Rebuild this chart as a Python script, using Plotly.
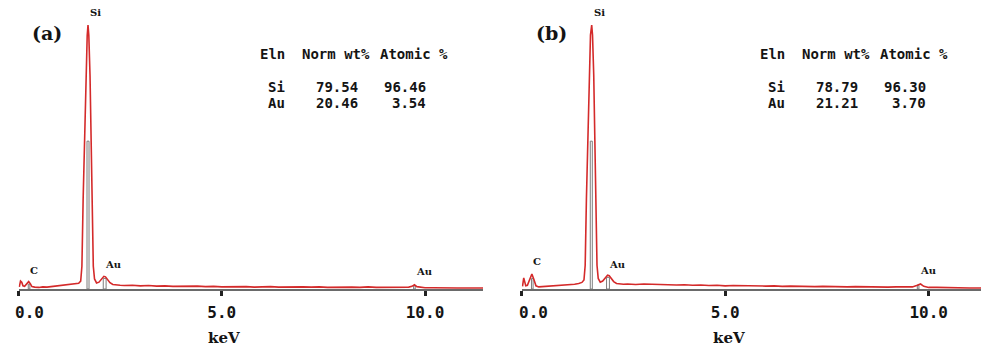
import plotly.graph_objects as go

# ---------------- data ----------------
# Panel (a) spectrum: energy (keV) and counts (relative, Si peak = 1000)
energy_a = [0.02, 0.05, 0.08, 0.11, 0.15, 0.20, 0.25, 0.29, 0.33, 0.40, 0.50, 0.60, 0.70, 0.80,
            0.90, 1.00, 1.10, 1.20, 1.30, 1.40, 1.48, 1.53, 1.56, 1.59, 1.62, 1.66, 1.69, 1.71,
            1.73, 1.76, 1.79, 1.81, 1.84, 1.87, 1.92, 1.98, 2.04, 2.10, 2.14, 2.19, 2.25, 2.32,
            2.40, 2.50, 2.60, 2.80, 3.00, 3.20, 3.40, 3.60, 3.80, 4.00, 4.20, 4.40, 4.60, 4.80,
            5.00, 5.20, 5.40, 5.60, 5.80, 6.00, 6.20, 6.40, 6.60, 6.80, 7.00, 7.20, 7.40, 7.60,
            7.80, 8.00, 8.20, 8.40, 8.60, 8.80, 9.00, 9.20, 9.40, 9.60, 9.68, 9.74, 9.80, 9.90,
            10.00, 10.20, 10.40, 10.60, 10.80, 11.00, 11.20, 11.43]
counts_a = [8, 30, 26, 12, 10, 18, 28, 20, 9, 7, 6, 8, 7, 9,
            11, 12, 14, 15, 17, 19, 22, 30, 86, 338, 560, 806, 960, 1000,
            960, 806, 560, 338, 86, 38, 23, 26, 38, 48, 46, 36, 24, 17,
            15, 14, 13, 14, 12, 13, 11, 12, 10, 11, 10, 11, 9, 10,
            8, 9, 8, 9, 7, 8, 9, 7, 8, 7, 8, 7, 8, 6,
            7, 6, 7, 6, 8, 6, 6, 5, 6, 7, 10, 16, 9, 6,
            5, 5, 4, 5, 4, 4, 4, 4]

# Panel (b) spectrum
energy_b = [0.02, 0.05, 0.07, 0.10, 0.14, 0.19, 0.25, 0.30, 0.35, 0.42, 0.50, 0.60, 0.70, 0.80,
            0.90, 1.00, 1.10, 1.20, 1.30, 1.40, 1.48, 1.53, 1.56, 1.59, 1.62, 1.66, 1.69, 1.72,
            1.74, 1.77, 1.80, 1.82, 1.85, 1.88, 1.93, 1.99, 2.05, 2.11, 2.15, 2.20, 2.26, 2.33,
            2.40, 2.50, 2.60, 2.80, 3.00, 3.20, 3.40, 3.60, 3.80, 4.00, 4.20, 4.40, 4.60, 4.80,
            5.00, 5.20, 5.40, 5.60, 5.80, 6.00, 6.20, 6.40, 6.60, 6.80, 7.00, 7.20, 7.40, 7.60,
            7.80, 8.00, 8.20, 8.40, 8.60, 8.80, 9.00, 9.20, 9.40, 9.60, 9.72, 9.80, 9.88, 9.96,
            10.00, 10.20, 10.40, 10.60, 10.80, 11.00, 11.20, 11.48]
counts_b = [10, 42, 30, 12, 14, 34, 57, 36, 12, 8, 9, 10, 11, 10,
            12, 13, 15, 17, 18, 21, 25, 34, 90, 340, 565, 810, 962, 1000,
            962, 810, 565, 340, 90, 40, 26, 30, 42, 52, 50, 40, 28, 21,
            19, 18, 19, 17, 19, 18, 16, 17, 15, 16, 14, 15, 13, 14,
            12, 13, 12, 11, 12, 11, 12, 10, 11, 10, 11, 9, 10, 9,
            9, 8, 9, 8, 8, 8, 7, 8, 7, 8, 14, 19, 10, 7,
            6, 6, 5, 5, 5, 4, 4, 4]

# Element line markers (keV) and their marker heights (counts)
marker_energy = [0.26, 1.71, 2.12, 9.74]
marker_half_width = [0.02, 0.025, 0.035, 0.02]
marker_height_a = [18, 560, 40, 12]
marker_height_b = [40, 560, 44, 14]

# Peak labels: text, energy, label baseline height (counts)
peak_text = ["C", "Si", "Au", "Au"]
peak_energy = [0.24, 1.72, 2.09, 9.74]
peak_label_y_a = [40, 1019, 64, 38]
peak_label_y_b = [76, 1019, 64, 42]

# Quantification table
elements = ["Si", "Au"]
norm_wt_a = [79.54, 20.46]
atomic_a = [96.46, 3.54]
norm_wt_b = [78.79, 21.21]
atomic_b = [96.30, 3.70]

tick_vals = [0, 5, 10]
tick_text = ["", "5.0", "10.0"]   # the "0.0" label sits right of its tick (annotation below)
zero_label = "0.0"
panel_labels = ["(a)", "(b)"]

# ---------------- layout helpers ----------------
# page body has an 8px margin: figure occupies window pixels 8..989 x 8..349
OFF = 8
W, H = 989 - OFF, 349 - OFF
def fx(px):
    return (px - OFF) / W
def fy(py):
    return 1 - (py - OFF) / H

RED = "#d42a2a"
GREY = "#7d7d7d"
TXT = "#141414"

fig = go.Figure()
fig.add_trace(go.Scatter(x=energy_a, y=counts_a, mode="lines",
                         line=dict(color=RED, width=1.6), xaxis="x", yaxis="y",
                         showlegend=False, hoverinfo="skip"))
fig.add_trace(go.Scatter(x=energy_b, y=counts_b, mode="lines",
                         line=dict(color=RED, width=1.6), xaxis="x2", yaxis="y2",
                         showlegend=False, hoverinfo="skip"))

x0_a, xend_a, pxkev_a = 18.5, 483.0, 40.65
x0_b, xend_b, pxkev_b = 521.7, 989.0, 40.7
base_py = 289.0
top_py = 8.5
ymax = (base_py - top_py) / 0.264

tickfont = dict(family="DejaVu Sans Mono", size=16, color=TXT, weight="bold")
xcommon = dict(showgrid=False, zeroline=False, showline=True, linecolor="#6a6a6a",
               linewidth=2, ticks="outside", ticklen=5, tickwidth=2.5, tickcolor="#222222",
               tickvals=tick_vals, ticktext=tick_text, layer="below traces",
               automargin=False, ticklabelstandoff=3,
               tickfont=tickfont, fixedrange=True)
ycommon = dict(showgrid=False, zeroline=False, showline=False, showticklabels=False,
               automargin=False,
               ticks="", range=[0, ymax], domain=[fy(base_py), fy(top_py)], fixedrange=True)

fig.update_layout(
    template="none",
    width=W, height=H, autosize=False,
    margin=dict(l=0, r=0, t=0, b=0, pad=0, autoexpand=False),
    paper_bgcolor="white", plot_bgcolor="white",
    xaxis=dict(domain=[fx(x0_a), fx(xend_a)], range=[0, (xend_a - x0_a) / pxkev_a],
               anchor="y", **xcommon),
    xaxis2=dict(domain=[fx(x0_b), min(1.0, fx(xend_b))], range=[0, (xend_b - x0_b) / pxkev_b],
                anchor="y2", **xcommon),
    yaxis=dict(anchor="x", **ycommon),
    yaxis2=dict(anchor="x2", **ycommon),
)

shapes = []
annotations = []
for xr, yr, heights in [("x", "y", marker_height_a), ("x2", "y2", marker_height_b)]:
    for e, hw, h in zip(marker_energy, marker_half_width, heights):
        shapes.append(dict(type="rect", xref=xr, yref=yr, x0=e - hw, x1=e + hw, y0=0, y1=h,
                           line=dict(color=GREY, width=1), fillcolor="rgba(0,0,0,0)",
                           layer="below"))

for xr, yr, ys in [("x", "y", peak_label_y_a), ("x2", "y2", peak_label_y_b)]:
    for t, e, yv in zip(peak_text, peak_energy, ys):
        annotations.append(dict(text=t, x=e, y=yv, xref=xr, yref=yr, xanchor="left",
                                yanchor="bottom", showarrow=False,
                                font=dict(family="DejaVu Serif", size=10, color=TXT,
                                          weight="bold")))

# "0.0" tick labels (offset right of the zero tick, as in the original)
for zx in [13.3, 516.7]:
    annotations.append(dict(text=zero_label, x=fx(zx), y=fy(312.5), xref="paper", yref="paper",
                            xanchor="left", yanchor="middle", showarrow=False, font=tickfont))

# keV titles and panel labels
for cx, lab_x, lab in [(224, 47, panel_labels[0]), (729, 551.5, panel_labels[1])]:
    annotations.append(dict(text="keV", x=fx(cx), y=fy(338), xref="paper", yref="paper",
                            xanchor="center", yanchor="middle", showarrow=False,
                            font=dict(family="DejaVu Serif", size=15, color=TXT, weight="bold")))
    annotations.append(dict(text=lab, x=fx(lab_x), y=fy(33), xref="paper", yref="paper",
                            xanchor="center", yanchor="middle", showarrow=False,
                            font=dict(family="DejaVu Serif", size=19, color=TXT, weight="bold")))

# quantification tables
tfont = dict(family="DejaVu Sans Mono", size=14, color=TXT, weight="bold")
for off, wt, at in [(0, norm_wt_a, atomic_a), (500, norm_wt_b, atomic_b)]:
    for txt, xp in [("Eln", 258.3), ("Norm wt%", 300.0), ("Atomic %", 377.7)]:
        annotations.append(dict(text=txt, x=fx(xp + off), y=fy(54.3), xref="paper",
                                yref="paper", xanchor="left", yanchor="middle",
                                showarrow=False, font=tfont))
    for el, w, a, yp in zip(elements, wt, at, [87.3, 103.3]):
        annotations.append(dict(text=el, x=fx(265.7 + off), y=fy(yp), xref="paper",
                                yref="paper", xanchor="left", yanchor="middle",
                                showarrow=False, font=tfont))
        annotations.append(dict(text=f"{w:.2f}", x=fx(360.0 + off), y=fy(yp), xref="paper",
                                yref="paper", xanchor="right", yanchor="middle",
                                showarrow=False, font=tfont))
        annotations.append(dict(text=f"{a:.2f}", x=fx(428.3 + off), y=fy(yp), xref="paper",
                                yref="paper", xanchor="right", yanchor="middle",
                                showarrow=False, font=tfont))

fig.update_layout(shapes=shapes, annotations=annotations)
fig.write_html("out.html")
